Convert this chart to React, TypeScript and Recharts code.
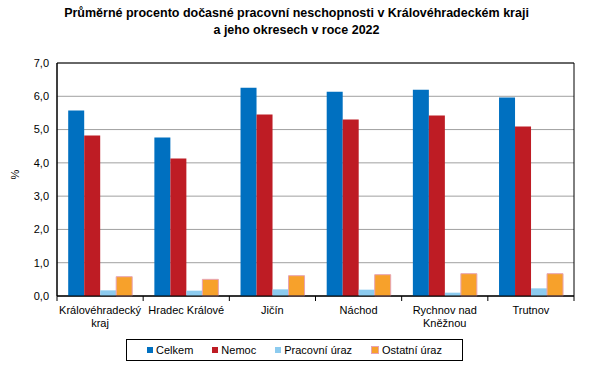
import {
  BarChart,
  Bar,
  XAxis,
  YAxis,
  CartesianGrid,
  ReferenceArea,
} from "recharts";

const FONT = '"Liberation Sans", Arial, sans-serif';

const categories = [
  "Královéhradecký kraj",
  "Hradec Králové",
  "Jičín",
  "Náchod",
  "Rychnov nad Kněžnou",
  "Trutnov",
];
// manual line breaks as in the original axis labels
const categoryLines: string[][] = [
  ["Královéhradecký", "kraj"],
  ["Hradec Králové"],
  ["Jičín"],
  ["Náchod"],
  ["Rychnov nad", "Kněžnou"],
  ["Trutnov"],
];

const celkem = [5.57, 4.76, 6.26, 6.14, 6.2, 5.96];
const nemoc = [4.82, 4.13, 5.45, 5.3, 5.42, 5.09];
const pracovniUraz = [0.17, 0.16, 0.2, 0.19, 0.1, 0.23];
const ostatniUraz = [0.58, 0.5, 0.61, 0.64, 0.67, 0.67];

const yTicks = [0, 1, 2, 3, 4, 5, 6, 7];

const SERIES = [
  { key: "celkem", label: "Celkem", color: "#0070c0", stroke: "none" },
  { key: "nemoc", label: "Nemoc", color: "#be1c24", stroke: "none" },
  { key: "pracovni", label: "Pracovní úraz", color: "#8ccbef", stroke: "none" },
  { key: "ostatni", label: "Ostatní úraz", color: "#f7a12b", stroke: "#e7a3b3" },
];

const data = categories.map((name, i) => ({
  name,
  celkem: celkem[i],
  nemoc: nemoc[i],
  pracovni: pracovniUraz[i],
  ostatni: ostatniUraz[i],
}));

const fmt = (v: number) => v.toFixed(1).replace(".", ",");

function CategoryTick(props: any) {
  const { x, y, payload, index } = props;
  const half = payload?.offset ?? 0;
  const lines = categoryLines[index] ?? [String(payload.value)];
  return (
    <g>
      <line x1={x - half} x2={x - half} y1={y - 8} y2={y - 3} stroke="#000" />
      {index === categories.length - 1 && (
        <line x1={x + half} x2={x + half} y1={y - 8} y2={y - 3} stroke="#000" />
      )}
      {lines.map((line, i) => (
        <text
          key={i}
          x={x}
          y={y + 10 + i * 13}
          textAnchor="middle"
          fontSize={11}
          fontFamily={FONT}
          fill="#000"
        >
          {line}
        </text>
      ))}
    </g>
  );
}

function LegendBox() {
  return (
    <div
      style={{
        position: "absolute",
        left: 126,
        top: 339,
        width: 337,
        height: 22,
        border: "1px solid #000",
        display: "flex",
        alignItems: "center",
        justifyContent: "center",
        gap: 19,
        fontFamily: FONT,
        fontSize: 11,
        boxSizing: "border-box",
      }}
    >
      {SERIES.map((s) => (
        <span key={s.key} style={{ display: "inline-flex", alignItems: "center" }}>
          <span
            style={{
              width: 6,
              height: 6,
              background: s.color,
              border: s.stroke === "none" ? "none" : `1px solid ${s.stroke}`,
              marginRight: 3,
              display: "inline-block",
            }}
          />
          {s.label}
        </span>
      ))}
    </div>
  );
}

export default function App() {
  return (
    <div
      style={{
        position: "absolute",
        left: 0,
        top: 0,
        width: 593,
        height: 381,
        background: "#fff",
        fontFamily: FONT,
      }}
    >
      <div
        style={{
          position: "absolute",
          left: 0,
          top: 5,
          width: 593,
          textAlign: "center",
          fontWeight: "bold",
          fontSize: 12.5,
          lineHeight: "17px",
        }}
      >
        <div>Průměrné procento dočasné pracovní neschopnosti v Královéhradeckém kraji</div>
        <div>a jeho okresech v roce 2022</div>
      </div>
      <BarChart
        width={593}
        height={381}
        data={data}
        margin={{ top: 63, right: 19, bottom: 0, left: 0 }}
        barCategoryGap="13%"
        barGap={0}
      >
        <CartesianGrid vertical={false} stroke="#a0a0a0" />
        <ReferenceArea y1={0} y2={7} fill="none" stroke="#000" strokeOpacity={1} ifOverflow="visible" />
        <XAxis
          dataKey="name"
          interval={0}
          tickLine={false}
          axisLine={{ stroke: "#000" }}
          tick={<CategoryTick />}
          height={85}
        />
        <YAxis
          width={57}
          domain={[0, 7]}
          ticks={yTicks}
          tickFormatter={fmt}
          tickLine={false}
          axisLine={{ stroke: "#000" }}
          tick={{ fontSize: 11, fill: "#000", fontFamily: FONT }}
          label={{
            value: "%",
            angle: -90,
            position: "insideLeft",
            offset: 15,
            fontSize: 11,
            fill: "#000",
            fontFamily: FONT,
          }}
        />
        {SERIES.map((s) => (
          <Bar
            key={s.key}
            dataKey={s.key}
            name={s.label}
            fill={s.color}
            stroke={s.stroke}
            isAnimationActive={false}
          />
        ))}
      </BarChart>
      <LegendBox />
    </div>
  );
}
